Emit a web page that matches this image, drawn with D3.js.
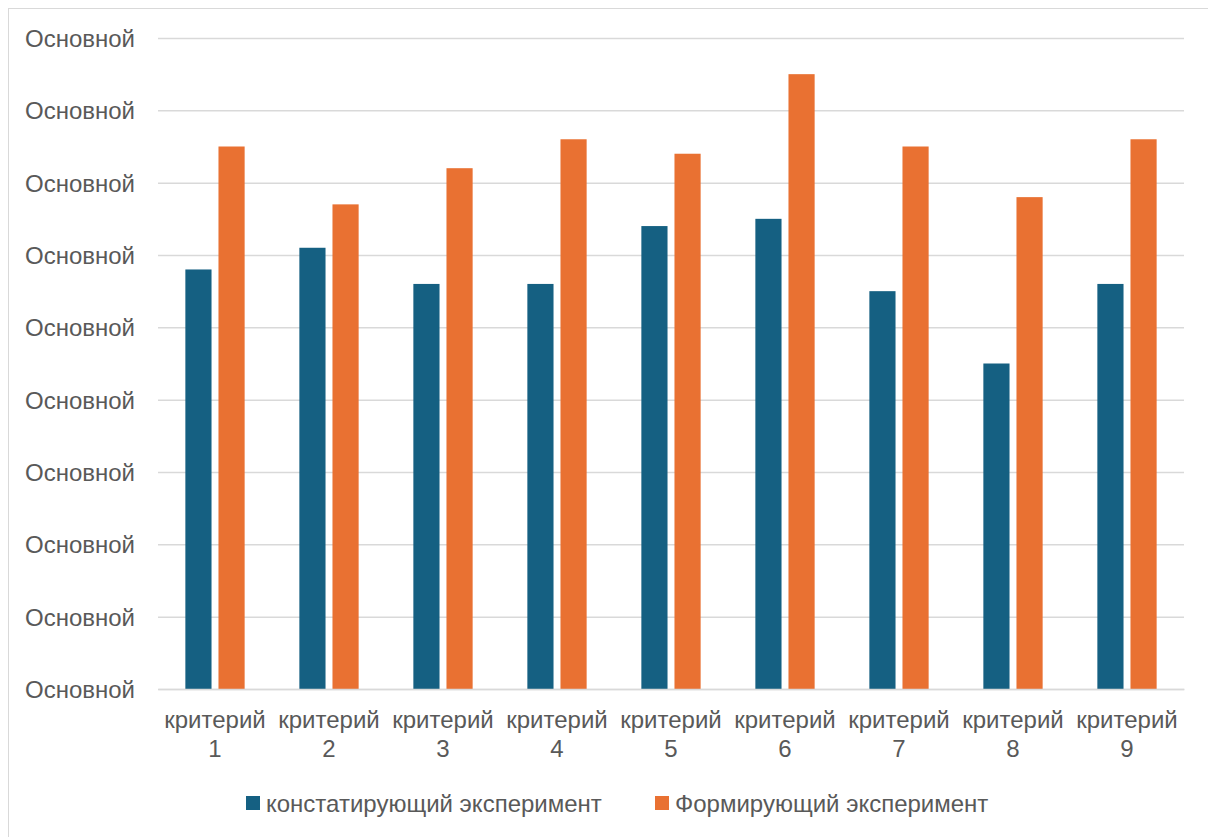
<!DOCTYPE html>
<html><head><meta charset="utf-8">
<script src="https://cdn.jsdelivr.net/npm/d3@7"></script>
<style>
html,body{margin:0;padding:0;background:#fff;}
svg{display:block;}
text{font-family:"Liberation Sans",Arial,sans-serif;fill:#595959;}
</style></head><body>
<svg id="chart" width="1208" height="837"></svg>
<script>
const categories = ["критерий 1","критерий 2","критерий 3","критерий 4","критерий 5","критерий 6","критерий 7","критерий 8","критерий 9"];
const seriesNames = ["констатирующий эксперимент","Формирующий эксперимент"];
const constatValues = [5.8,6.1,5.6,5.6,6.4,6.5,5.5,4.5,5.6];
const formValues = [7.5,6.7,7.2,7.6,7.4,8.5,7.5,6.8,7.6];
const tickValues = [0,1,2,3,4,5,6,7,8,9];
const tickLabel = "Основной";
const colors = ["#156082","#E97132"];

const svg = d3.select("#chart");
const W = 1208, H = 837;
const m = {left:158, right:1184, top:38, bottom:689};
const FS = "24px";

svg.append("rect").attr("x",8.5).attr("y",8.5).attr("width",W+10).attr("height",H+10)
  .attr("fill","none").attr("stroke","#d9d9d9").attr("stroke-width",1);

const y = d3.scaleLinear().domain([0,9]).range([m.bottom,m.top]);
const x0 = d3.scaleBand().domain(categories).range([m.left,m.right]).paddingInner(0.48).paddingOuter(0.24);
const x1 = d3.scaleBand().domain([0,1]).range([0,x0.bandwidth()]).paddingInner(0.21);

// gridlines
const grid = svg.append("g").attr("transform",`translate(${m.left},0)`)
  .call(d3.axisLeft(y).tickValues(tickValues).tickSize(-(m.right-m.left)).tickFormat(""));
grid.select(".domain").remove();
grid.selectAll("line").attr("stroke","#d9d9d9").attr("stroke-width",1.5);

// y labels
const yl = svg.append("g").attr("transform",`translate(135,0)`)
  .call(d3.axisLeft(y).tickValues(tickValues).tickSize(0).tickPadding(0).tickFormat(()=>tickLabel));
yl.select(".domain").remove();
yl.selectAll("text").style("font-size",FS).style("font-family",null).attr("fill","#595959").attr("dy","0.35em");

// bars
const data = categories.map((c,i)=>({c, vals:[constatValues[i],formValues[i]]}));
const g = svg.append("g");
g.selectAll("g.cat").data(data).join("g").attr("class","cat")
  .attr("transform",d=>`translate(${x0(d.c)},0)`)
  .selectAll("rect").data(d=>d.vals.map((v,k)=>({v,k}))).join("rect")
  .attr("x",d=>x1(d.k)).attr("width",x1.bandwidth())
  .attr("y",d=>y(d.v)).attr("height",d=>y(0)-y(d.v))
  .attr("fill",d=>colors[d.k]);

// x axis line + labels
const xa = svg.append("g").attr("transform",`translate(0,${m.bottom})`)
  .call(d3.axisBottom(x0).tickSize(0).tickFormat(""));
xa.select(".domain").attr("stroke","#d9d9d9").attr("stroke-width",1.5);
categories.forEach(c=>{
  const parts = c.split(" ");
  const cx = x0(c)+x0.bandwidth()/2;
  const t = svg.append("text").attr("x",cx).attr("text-anchor","middle").style("font-size",FS);
  t.append("tspan").attr("x",cx).attr("y",728).text(parts[0]);
  t.append("tspan").attr("x",cx).attr("y",757).text(parts[1]);
});

// legend
const legX = [246,655];
seriesNames.forEach((s,k)=>{
  svg.append("rect").attr("x",legX[k]).attr("y",796).attr("width",14).attr("height",14).attr("fill",colors[k]);
  svg.append("text").attr("x",legX[k]+20).attr("y",812).style("font-size",FS).text(s);
});
</script>
</body></html>
